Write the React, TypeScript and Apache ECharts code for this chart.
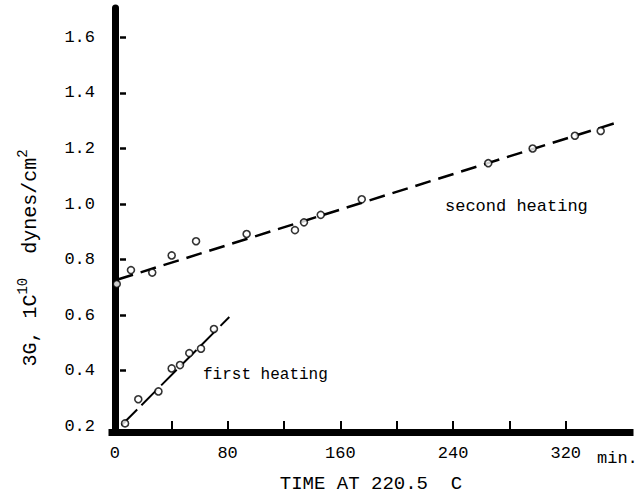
import React, { useEffect, useRef } from "react";
import * as echarts from "echarts";

// First heating (time in min, modulus)
const firstHeatingTime = [7.2, 16.6, 30.9, 40.3, 46.2, 52.8, 61.1, 70.3];
const firstHeatingG = [0.21, 0.297, 0.325, 0.408, 0.42, 0.463, 0.479, 0.55];

// Second heating
const secondHeatingTime = [1.3, 11.4, 26.5, 40.3, 57.6, 93.5, 127.8, 134.2, 146.1, 175.2, 265, 296.5, 326.5, 344.8];
const secondHeatingG = [0.712, 0.762, 0.753, 0.815, 0.866, 0.892, 0.906, 0.934, 0.961, 1.017, 1.147, 1.2, 1.246, 1.263];

// Fitted lines (end points)
const firstFitTime = [4.8, 81.2];
const firstFitG = [0.204, 0.593];
const secondFitTime = [2, 356];
const secondFitG = [0.728, 1.293];

// Ticks
const xTickValues = [40, 80, 120, 160, 200, 240, 280, 320];
const xLabelValues = [0, 80, 160, 240, 320];
const yLabelValues = [0.2, 0.4, 0.6, 0.8, 1.0, 1.2, 1.4, 1.6];
const yTickValues = [0.4, 0.6, 0.8, 1.0, 1.2, 1.4, 1.6];

const FONT = '"Liberation Mono", "DejaVu Sans Mono", monospace';
const INK = "#000";

const zip = (a: number[], b: number[]) => a.map((v, i) => [v, b[i]]);

export default function App() {
  const ref = useRef<HTMLDivElement>(null);
  useEffect(() => {
    document.body.style.margin = "0";
    const chart = echarts.init(ref.current!, null, { renderer: "svg" });
    const yMin = 0.179;
    const yMax = 1.706;
    chart.setOption({
      animation: false,
      backgroundColor: "#fff",
      grid: { left: 112, right: 12, top: 8, bottom: 61, containLabel: false },
      xAxis: {
        type: "value",
        min: -2.06,
        max: 365.6,
        name: "TIME AT 220.5  C",
        nameLocation: "middle",
        nameGap: 42,
        nameTextStyle: { fontFamily: FONT, fontSize: 19, color: INK },
        axisLine: { show: true, lineStyle: { color: "#000", width: 7, cap: "square" } },
        axisTick: { show: true, inside: true, length: 11, customValues: xTickValues, lineStyle: { color: "#000", width: 2 } },
        axisLabel: { customValues: xLabelValues, margin: 13, fontFamily: FONT, fontSize: 17, color: INK },
        splitLine: { show: false },
      },
      yAxis: [
        {
          type: "value",
          min: yMin,
          max: yMax,
          axisLine: { show: true, lineStyle: { color: "#000", width: 7 } },
          axisTick: { show: false },
          axisLabel: {
            customValues: yLabelValues,
            margin: 17,
            fontFamily: FONT,
            fontSize: 17,
            color: INK,
            formatter: (v: number) => v.toFixed(1),
          },
          splitLine: { show: false },
        },
        {
          type: "value",
          position: "left",
          offset: -8,
          min: yMin,
          max: yMax,
          axisLine: { show: false },
          axisTick: { show: true, inside: true, length: 6, customValues: yTickValues, lineStyle: { color: "#000", width: 2.5 } },
          axisLabel: { show: false },
          splitLine: { show: false },
        },
      ],
      series: [
        {
          type: "line",
          data: zip(secondFitTime, secondFitG),
          showSymbol: false,
          lineStyle: { color: "#000", width: 2.5, type: [16, 8] },
          z: 1,
        },
        {
          type: "line",
          data: zip(firstFitTime, firstFitG),
          showSymbol: false,
          lineStyle: { color: "#000", width: 2, type: [22, 6] },
          z: 1,
        },
        {
          type: "scatter",
          data: zip(secondHeatingTime, secondHeatingG),
          symbol: "circle",
          symbolSize: 7,
          itemStyle: { color: "#fff", borderColor: "#000", borderWidth: 1.6 },
          z: 3,
        },
        {
          type: "scatter",
          data: zip(firstHeatingTime, firstHeatingG),
          symbol: "circle",
          symbolSize: 7,
          itemStyle: { color: "#fff", borderColor: "#000", borderWidth: 1.6 },
          z: 3,
        },
      ],
      graphic: [
        {
          type: "text",
          x: 597,
          y: 458,
          style: { text: "min.", fontFamily: FONT, fontSize: 17, fill: INK, align: "left", verticalAlign: "middle" },
        },
        {
          type: "text",
          x: 445,
          y: 206,
          style: { text: "second heating", fontFamily: FONT, fontSize: 17, fill: INK, align: "left", verticalAlign: "middle" },
        },
        {
          type: "text",
          x: 203,
          y: 375,
          style: { text: "first heating", fontFamily: FONT, fontSize: 16, fill: INK, align: "left", verticalAlign: "middle" },
        },
        {
          type: "text",
          x: 30,
          y: 258,
          rotation: Math.PI / 2,
          style: {
            text: "{m|3G, 1C}{s|10}{m|  dynes/cm}{s|2}",
            align: "center",
            verticalAlign: "middle",
            fill: INK,
            fontFamily: FONT,
            fontSize: 20,
            rich: {
              m: { fontFamily: FONT, fontSize: 20, fill: INK },
              s: { fontFamily: FONT, fontSize: 14, fill: INK, padding: [0, 0, 15, 0] },
            },
          },
        },
      ],
    });
    return () => chart.dispose();
  }, []);
  return <div ref={ref} style={{ width: 642, height: 498 }} />;
}
